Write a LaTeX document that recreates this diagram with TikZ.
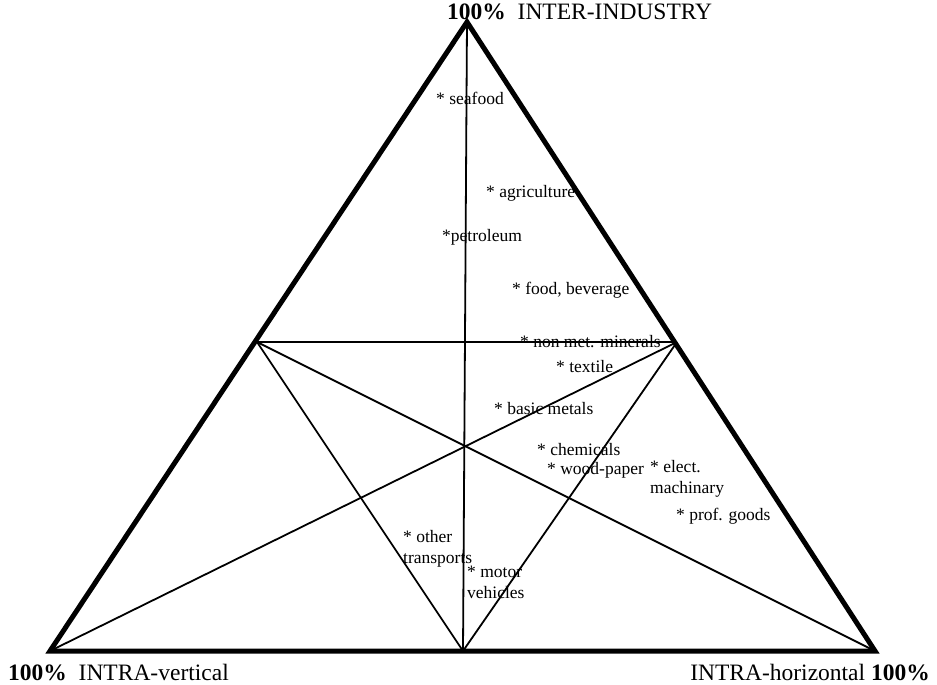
\documentclass[tikz,border=0pt]{standalone}
\usepackage{fontspec}
\setmainfont{Liberation Serif}
\begin{document}
\begin{tikzpicture}[x=1pt,y=-1pt,
  edge/.style={line width=5pt,line join=miter,line cap=round},
  thin/.style={line width=1.8pt},
  lbl/.style={anchor=west,inner sep=0pt,font=\fontsize{17.5}{21}\selectfont,align=left},
  corner/.style={inner sep=0pt,font=\fontsize{23.5}{26}\selectfont}]
\useasboundingbox (0,0) rectangle (937,685);
\coordinate (T) at (467,22);
\coordinate (BL) at (50,651);
\coordinate (BR) at (875,651);
\coordinate (BM) at (463,651);
\coordinate (ML) at (257,342);
\coordinate (MR) at (677,342);
% inner lines
\draw[thin] (T) -- (BM);
\draw[thin] (ML) -- (MR);
\draw[thin] (ML) -- (BR);
\draw[thin] (MR) -- (BL);
\draw[thin] (ML) -- (BM);
\draw[thin] (MR) -- (BM);
% outer triangle
\draw[edge] (T) -- (BL) -- (BR) -- cycle;
% corner labels
\node[corner,anchor=west] (top) at (447,12) {\textbf{100\%}\ \ INTER-INDUSTRY};
\node[corner,anchor=west] (left) at (8,672) {\textbf{100\%}\ \ INTRA-vertical};
\node[corner,anchor=east] (right) at (930,672) {INTRA-horizontal \textbf{100\%}};
% data labels
\node[lbl] (seafood) at (436,98) {* seafood};
\node[lbl] (agri) at (486,193) {* agriculture};
\node[lbl] (petro) at (442,237) {*petroleum};
\node[lbl] (food) at (512,290) {* food, beverage};
\node[lbl] (nonmet) at (520,342) {* non met. minerals};
\node[lbl] (textile) at (556,367) {* textile};
\node[lbl] (basic) at (494,409) {* basic metals};
\node[lbl] (chem) at (537,450) {* chemicals};
\node[lbl] (wood) at (547,470) {* wood-paper};
\node[lbl,anchor=north west] (elect) at (650,460) {* elect.\\machinary};
\node[lbl] (prof) at (676,516) {* prof. goods};
\node[lbl,anchor=north west] (other) at (403,530) {* other\\transports};
\node[lbl,anchor=north west] (motor) at (467,566) {* motor\\vehicles};
\end{tikzpicture}
\end{document}
